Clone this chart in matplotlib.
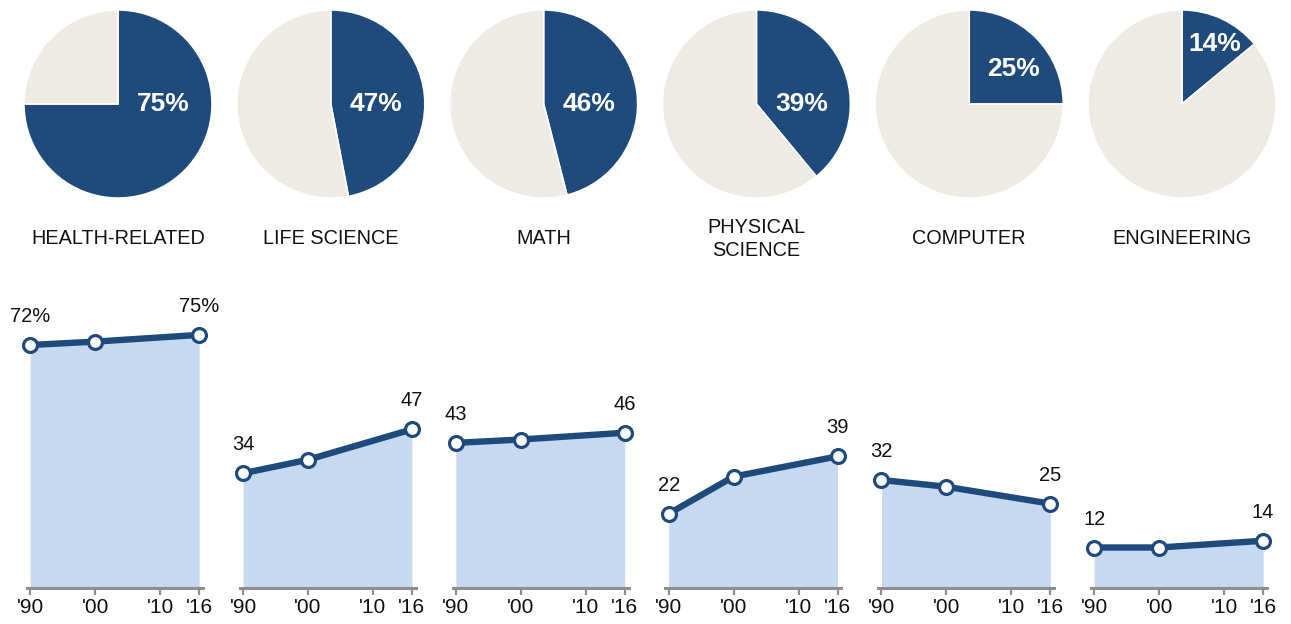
import math

import matplotlib
matplotlib.use("Agg")
import matplotlib.pyplot as plt

# data
fields = ["HEALTH-RELATED", "LIFE SCIENCE", "MATH", "PHYSICAL\nSCIENCE",
          "COMPUTER", "ENGINEERING"]
share_2016 = [75, 47, 46, 39, 25, 14]
years = [1990, 2000, 2016]
share_1990 = [72, 34, 43, 22, 32, 12]
share_2000 = [73, 38, 44, 33, 30, 12]
tick_years = [1990, 2000, 2010, 2016]
tick_labels = ["'90", "'00", "'10", "'16"]

DARK = "#1f4a7c"
BEIGE = "#eeebe5"
LIGHT = "#c6d9f0"
GREY = "#8e8e8e"

plt.rcParams['font.family'] = ['Liberation Sans', 'DejaVu Sans']

W, H = 1291, 624
fig = plt.figure(figsize=(W / 100, H / 100), dpi=100)


def box(left, top, w, h):
    return [left / W, 1 - (top + h) / H, w / W, h / H]


step = 212.8
for i, name in enumerate(fields):
    pct = share_2016[i]

    # pie on top
    cx, cy, r = 118 + step * i, 104, 95
    ax = fig.add_axes(box(cx - r, cy - r, 2 * r, 2 * r))
    ax.pie([pct, 100 - pct], startangle=90, counterclock=False,
           colors=[DARK, BEIGE],
           wedgeprops=dict(edgecolor='white', linewidth=1.2))
    ax.set_xlim(-1.01, 1.01)
    ax.set_ylim(-1.01, 1.01)
    ax.set_aspect('equal')
    # label sits right of centre for big wedges, along the bisector otherwise
    if pct >= 35:
        ang, dist = 4, 0.48
    else:
        ang, dist = 90 - pct * 2.0, 0.5 + (35 - pct) * 0.012
    ax.text(dist * math.cos(math.radians(ang)),
            dist * math.sin(math.radians(ang)) - 0.03,
            f"{pct}%", color='white', fontsize=19, fontweight='bold',
            ha='center', va='center')

    fig.text(cx / W, 1 - 239 / H, name, ha='center', va='center',
             fontsize=14.3, linespacing=1.3, color='#111111')

    # small trend chart below
    vals = [share_1990[i], share_2000[i], share_2016[i]]
    bx = fig.add_axes(box(27 + step * i, 318, 176, 270))
    bx.fill_between(years, 0, vals, color=LIGHT, linewidth=0)
    bx.plot(years, vals, color=DARK, linewidth=4.6, marker='o',
            markersize=10, markerfacecolor='white', markeredgecolor=DARK,
            markeredgewidth=2.3, solid_capstyle='round', zorder=3,
            clip_on=False)
    bx.set_xlim(1989.5, 2016.6)
    bx.set_ylim(0, 80)
    for s in ['top', 'right', 'left']:
        bx.spines[s].set_visible(False)
    bx.spines['bottom'].set_color(GREY)
    bx.spines['bottom'].set_linewidth(2.2)
    bx.set_yticks([])
    bx.set_xticks(tick_years)
    bx.set_xticklabels(tick_labels)
    bx.tick_params(axis='x', colors=GREY, length=5, width=1.6, pad=2.5,
                   labelsize=15, labelcolor='#111111')
    bx.patch.set_visible(False)

    first = f"{vals[0]}%" if i == 0 else f"{vals[0]}"
    last = f"{vals[-1]}%" if i == 0 else f"{vals[-1]}"
    bx.annotate(first, (years[0], vals[0]), xytext=(0, 20.5),
                textcoords='offset points', ha='center', va='center',
                fontsize=14.5, color='#111111', annotation_clip=False)
    bx.annotate(last, (years[-1], vals[-1]), xytext=(0, 20.5),
                textcoords='offset points', ha='center', va='center',
                fontsize=14.5, color='#111111', annotation_clip=False)

fig.savefig("out.png", dpi=100)
